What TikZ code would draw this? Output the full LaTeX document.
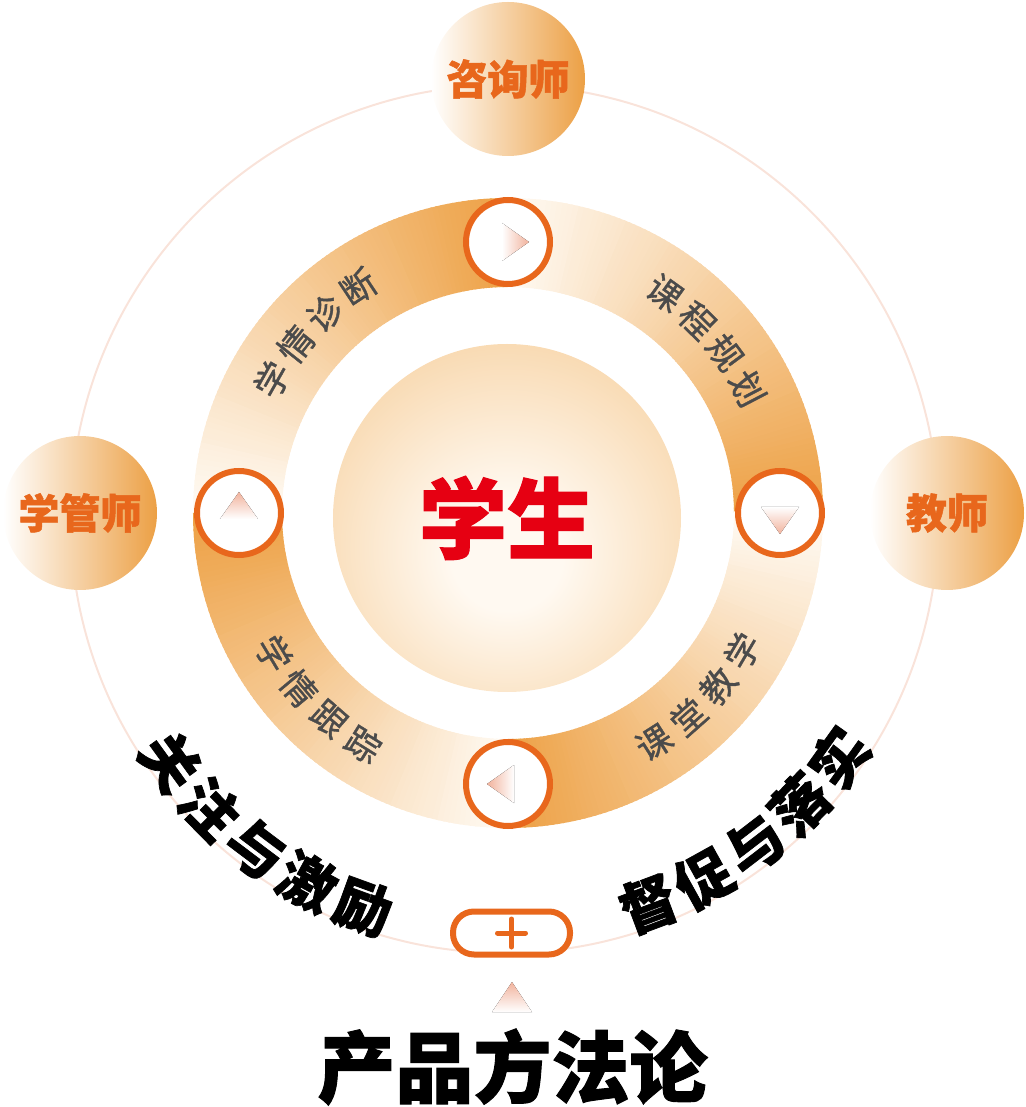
\documentclass[tikz,border=0pt]{standalone}
\usepackage{fontspec}
\newfontfamily\cjk{Noto Sans CJK SC}[BoldFeatures={FakeBold=1.2}]
\newfontfamily\cjkm{Noto Sans CJK SC}[FakeBold=1]
\definecolor{ringdk}{HTML}{EDA043}
\definecolor{ringlt}{HTML}{FFFBF5}
\definecolor{satdk}{HTML}{ECA045}
\definecolor{ord}{HTML}{E8671C}
\definecolor{stured}{HTML}{E60012}
\definecolor{lbl}{HTML}{4B4B4B}
\definecolor{faintline}{HTML}{F9E3DA}
\definecolor{tri}{HTML}{F1B29C}
\definecolor{stuin}{HTML}{FFF9F1}
\definecolor{stuout}{HTML}{F2BB74}
\pgfdeclareradialshading{stushade}{\pgfpoint{0bp}{-6bp}}{color(0bp)=(stuin); color(8bp)=(stuin); color(50bp)=(stuout); color(72bp)=(stuout)}
\tikzset{
  sat/.style={circle, minimum size=154pt, inner sep=0pt, left color=white, right color=satdk,
    text=ord, font=\cjk\bfseries\fontsize{41}{41}\selectfont},
  arrowring/.style={circle, minimum size=84pt, inner sep=0pt, draw=ord, line width=6pt, fill=white},
  lblst/.style={inner sep=0pt, text=lbl, font=\cjkm\fontsize{35}{35}\selectfont},
  bigst/.style={inner sep=0pt, text=black, font=\cjk\bfseries\fontsize{57}{57}\selectfont},
}
\begin{document}
\begin{tikzpicture}[x=1pt,y=1pt]
\useasboundingbox (-508,-594) rectangle (517,513);
% outer thin circle
\draw[faintline, line width=2pt] (-3.5,-6) circle[radius=434];
% ring with angular gradient
\foreach \i in {0,...,359}{
  \pgfmathtruncatemacro\tt{100*(1-(mod(\i,90)+0.5)/90)}
  \fill[ringdk!\tt!ringlt] (\i:226) arc[start angle=\i, end angle=\i+1.4, radius=226]
     -- (\i+1.4:315) arc[start angle=\i+1.4, end angle=\i, radius=315] -- cycle;
}
% centre
\node[circle, minimum size=348pt, inner sep=0pt, shading=stushade, text=stured,
  font=\cjk\bfseries\fontsize{88}{88}\selectfont] (stu) at (-1,-5) {学生};
% satellites
\node[sat] (zxs) at (0,434) {咨询师};
\node[sat] (xgs) at (-428,0) {学管师};
\node[sat] (js) at (439,0) {教师};
% arrow circles
\node[arrowring] (a1) at (90:271) {};
\node[arrowring] (a2) at (0:272) {};
\node[arrowring] (a3) at (-90:271) {};
\node[arrowring] (a4) at (180:269) {};
\fill[shift={(a1.center)}, left color=white, right color=tri] (21,0) -- (-6,19) -- (-6,-19) -- cycle;
\fill[shift={(a2.center)}, top color=white, bottom color=tri] (0,-21) -- (-19,6) -- (19,6) -- cycle;
\fill[shift={(a3.center)}, left color=tri, right color=white] (-21,0) -- (6,19) -- (6,-19) -- cycle;
\fill[shift={(a4.center)}, top color=tri, bottom color=white] (0,21) -- (-19,-6) -- (19,-6) -- cycle;
% ring labels
\foreach \ch [count=\k from 0] in {学,情,诊,断}{
  \pgfmathsetmacro\a{137+13.5-9*\k}
  \node[lblst, rotate=\a-90] (l1\k) at (\a:271) {\ch};
}
\foreach \ch [count=\k from 0] in {课,程,规,划}{
  \pgfmathsetmacro\a{41+13.5-9*\k}
  \node[lblst, rotate=\a-90] (l2\k) at (\a:270) {\ch};
}
\foreach \ch [count=\k from 0] in {课,堂,教,学}{
  \pgfmathsetmacro\a{-44-13.5+9*\k}
  \node[lblst, rotate=\a+90] (l3\k) at (\a:272) {\ch};
}
\foreach \ch [count=\k from 0] in {学,情,跟,踪}{
  \pgfmathsetmacro\a{224.5-13.5+9*\k}
  \node[lblst, rotate=\a+90] (l4\k) at (\a:273) {\ch};
}
% big arc texts
\begin{scope}[shift={(-3.5,-6)}]
\foreach \ch [count=\k from 0] in {关,注,与,激,励}{
  \pgfmathsetmacro\a{216+8.5*\k}
  \node[bigst, rotate=\a+90] (b1\k) at (\a:413) {\ch};
}
\foreach \ch [count=\k from 0] in {督,促,与,落,实}{
  \pgfmathsetmacro\a{-69.5+8.5*\k}
  \node[bigst, rotate=\a+90] (b2\k) at (\a:411) {\ch};
}
\end{scope}
% plus button
\node[draw=ord, line width=6pt, rounded corners=21pt, minimum width=117pt, minimum height=43pt,
  inner sep=0pt, fill=white] (btn) at (3.5,-420) {};
\draw[ord, line width=5pt, line cap=round] ([xshift=-14pt]btn.center) -- ([xshift=14pt]btn.center);
\draw[ord, line width=5pt, line cap=round] ([yshift=-14pt]btn.center) -- ([yshift=14pt]btn.center);
% small triangle
\fill[top color=tri, bottom color=white] (4,-469) -- (24,-499) -- (-16,-499) -- cycle;
% bottom title
\node[inner sep=0pt, font=\cjk\bfseries\fontsize{78}{78}\selectfont] (title) at (4.5,-554) {产品方法论};
\end{tikzpicture}
\end{document}
